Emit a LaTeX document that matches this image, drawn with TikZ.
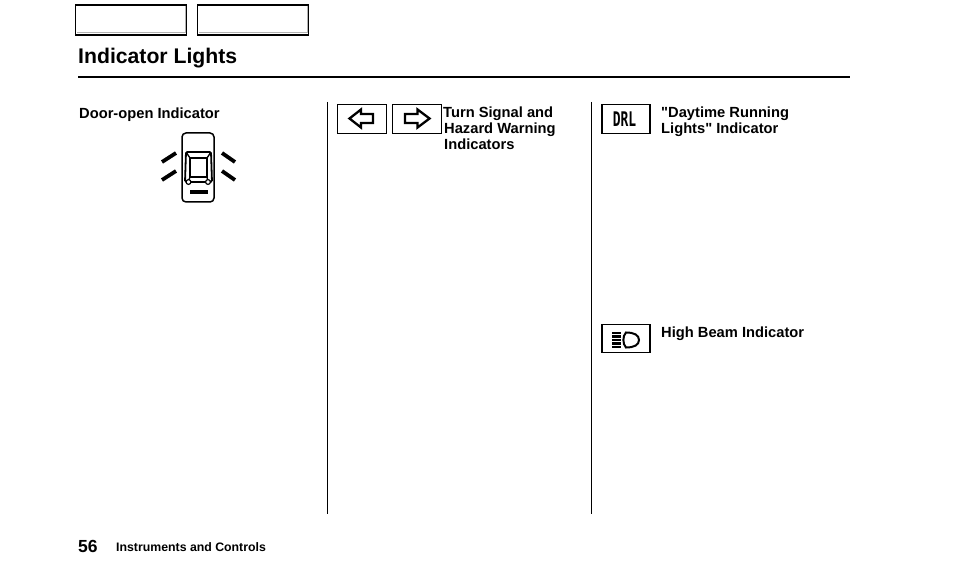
\documentclass[tikz,border=0pt]{standalone}
\usepackage{fontspec}
\setmainfont{Liberation Sans}
\newfontfamily\quotefont{Liberation Sans}
\newfontfamily\drlfont{DejaVu Sans Mono}
\tikzset{
  label/.style={anchor=north west,inner sep=0pt,align=left,font=\fontsize{14.7}{16}\selectfont\bfseries},
  tab/.style={draw=black,line width=1.6pt,fill=white,minimum width=111pt,minimum height=30pt,inner sep=0pt},
  icon/.style={draw=black,line width=1.4pt,minimum width=48pt,minimum height=29pt,inner sep=0pt},
  rule/.style={line width=1.8pt},
  glyph/.style={line width=2.3pt,line join=miter},
  door/.style={line width=3.8pt}
}
\begin{document}
\begin{tikzpicture}[x=1pt,y=-1pt]
      \useasboundingbox (0,0) rectangle (954,572);
      %% Tabs and heading
      \node[tab] (tab1) at (131,20) {};
      \node[tab] (tab2) at (253,20) {};
      \draw[gray!60,line width=1pt] (tab1.north east)++(-1.5,1.5) |- ++(-109,27);
      \draw[gray!60,line width=1pt] (tab2.north east)++(-1.5,1.5) |- ++(-109,27);
      \node[anchor=west,inner sep=0pt,font=\fontsize{21.2}{24}\selectfont\bfseries] (title) at (78,58) {Indicator Lights};
      \draw[line width=2.7pt] (78,77) -- (850,77);
      %% Column rules
      \draw[rule] (327.5,102) -- (327.5,514);
      \draw[rule] (591.5,102) -- (591.5,514);
      %% Labels
      \node[label] (door) at (79,107.5) {Door-open Indicator};
      \node[label] (turn) at (443,106.5) {Turn Signal and\\\hspace{1pt}Hazard Warning\\\hspace{1pt}Indicators};
      \node[label] (drl) at (661,106.5) {{\quotefont"}Daytime Running\\Lights{\quotefont"} Indicator};
      \node[label] (beam) at (661,326.5) {High Beam Indicator};
      %% Car
      \draw[line width=1.5pt,rounded corners=4pt] (182,133) rectangle (214,202);
      \draw[line width=1.8pt,rounded corners=1.5pt] (186,152) -- (211,152) -- (212,182) -- (185,182) -- cycle;
      \draw[line width=1.8pt] (190,158) rectangle (207,177);
      \draw[line width=1.3pt] (186,152) -- (190,158) (211,152) -- (207,158) (188,182) -- (190,177) (208,182) -- (207,177);
      \draw[line width=1.2pt,fill=white] (188.5,182) circle (2.4pt);
      \draw[line width=1.2pt,fill=white] (208,182) circle (2.4pt);
      \fill (190,190) rectangle (208,194);
      \draw[door] (162,162) -- (176,153);
      \draw[door] (162,180) -- (176,171);
      \draw[door] (222,153) -- (235,162);
      \draw[door] (222,171) -- (235,180);
      %% Turn signal icons
      \node[icon,minimum width=49pt] (left) at (362,119) {};
      \node[icon,minimum width=49pt] (right) at (417,119) {};
      \draw[glyph] (349.5,118.5) -- (361,109.5) -- (361,114) -- (373,114) -- (373,123) -- (361,123) -- (361,127.5) -- cycle;
      \draw[glyph] (429.5,118.5) -- (417.5,109.5) -- (417.5,114) -- (405,114) -- (405,123) -- (417.5,123) -- (417.5,127.5) -- cycle;
      %% DRL icon
      \node[icon] (drlicon) at (626,119) {};
      \node[inner sep=0pt,font=\drlfont\fontsize{18}{18}\selectfont\bfseries,xscale=.72,yscale=1.12] (drltext) at (624.5,119) {DRL};
      %% High beam icon
      \node[icon,minimum height=28pt] (beamicon) at (626,338.5) {};
      \foreach \y in {333,336.5,340,343.5,347}
        \draw[line width=2.2pt] (612,\y) -- (620.5,\y);
      \draw[line width=2pt] (626,332.5) .. controls (634,332.5) and (639,335) .. (639,340) .. controls (639,345) and (634,347.5) .. (626,347.5) .. controls (622.5,344) and (622.5,336) .. (626,332.5) -- cycle;
      %% Footer
      \node[anchor=west,inner sep=0pt,font=\fontsize{17.5}{20}\selectfont\bfseries] (page) at (78,546) {56};
      \node[anchor=west,inner sep=0pt,font=\fontsize{12.3}{14}\selectfont\bfseries] (section) at (116,547) {Instruments and Controls};
    \end{tikzpicture}
\end{document}
